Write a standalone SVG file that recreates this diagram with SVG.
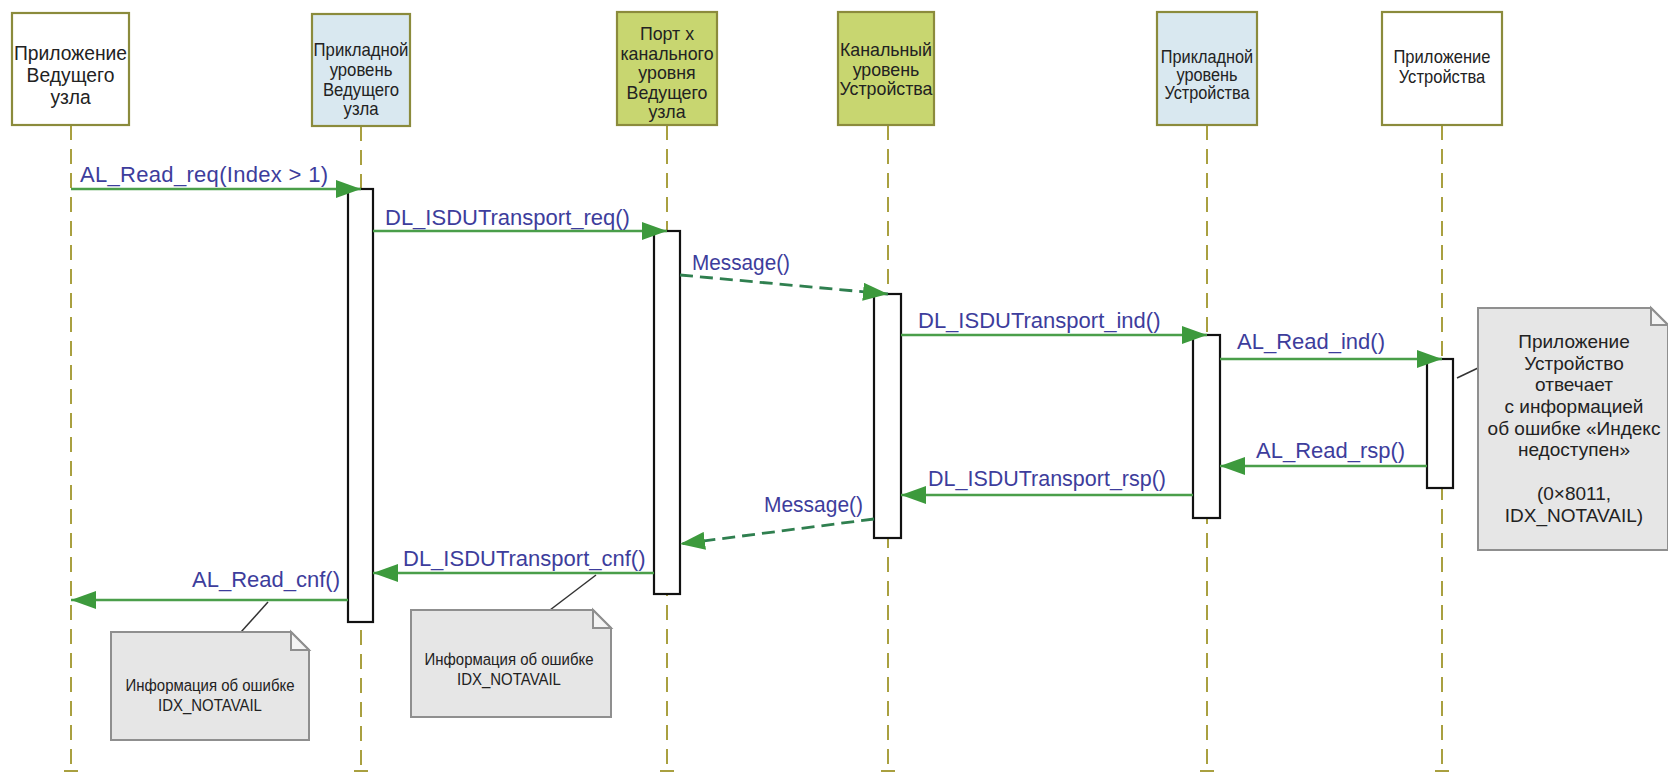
<svg xmlns="http://www.w3.org/2000/svg" width="1668" height="773" viewBox="0 0 1668 773">
<style>
.hdr{stroke:#8b8b3c;stroke-width:2.2}
.w{fill:#ffffff}.b{fill:#d9e8f0}.g{fill:#c8d670}
.ht{font-family:"Liberation Sans",Arial,sans-serif;fill:#222;text-anchor:middle}
.life{stroke:#a9a040;stroke-width:2;stroke-dasharray:15 9;fill:none}
.tick{stroke:#a9a040;stroke-width:2}
.bar{fill:#fff;stroke:#111;stroke-width:2.2}
.msg{stroke:#4a9e4a;stroke-width:2.6;fill:none}
.dmsg{stroke:#2f7f4f;stroke-width:2.8;stroke-dasharray:13 7;fill:none}
.lbl{font-family:"Liberation Sans",Arial,sans-serif;font-size:22px;fill:#3d3d9c}
.note{fill:#e6e6e6;stroke:#8f8f8f;stroke-width:2}
.fold{fill:#f4f4f4;stroke:#8f8f8f;stroke-width:2}
.nt{font-family:"Liberation Sans",Arial,sans-serif;fill:#222;text-anchor:middle}
.nl{stroke:#333;stroke-width:1.5}
</style>
<defs>
<marker id="ah" markerUnits="userSpaceOnUse" markerWidth="26" markerHeight="18" refX="25" refY="9" orient="auto">
<path d="M0,0 L25,9 L0,18 z" fill="#3d9a3d"/>
</marker>
</defs>

<g id="lifelines">
<line class="life" x1="71" y1="125" x2="71" y2="773"/>
<line class="life" x1="361" y1="126" x2="361" y2="773"/>
<line class="life" x1="667" y1="125" x2="667" y2="773"/>
<line class="life" x1="888" y1="125" x2="888" y2="773"/>
<line class="life" x1="1207" y1="125" x2="1207" y2="773"/>
<line class="life" x1="1442" y1="125" x2="1442" y2="773"/>
<line class="tick" x1="64" y1="771" x2="78" y2="771"/>
<line class="tick" x1="354" y1="771" x2="368" y2="771"/>
<line class="tick" x1="660" y1="771" x2="674" y2="771"/>
<line class="tick" x1="881" y1="771" x2="895" y2="771"/>
<line class="tick" x1="1200" y1="771" x2="1214" y2="771"/>
<line class="tick" x1="1435" y1="771" x2="1449" y2="771"/>
</g>

<g id="n1">
<rect class="hdr w" x="12" y="13" width="117" height="112"/>
<text class="ht" font-size="19.3" x="70.5"><tspan x="70.5" y="60">Приложение</tspan><tspan x="70.5" y="82">Ведущего</tspan><tspan x="70.5" y="104">узла</tspan></text>
</g>
<g id="n2">
<rect class="hdr b" x="312" y="14" width="98" height="112"/>
<g transform="translate(361,0) scale(0.89,1)"><text class="ht" font-size="18.8" x="0"><tspan x="0" y="56">Прикладной</tspan><tspan x="0" y="76">уровень</tspan><tspan x="0" y="96">Ведущего</tspan><tspan x="0" y="115">узла</tspan></text></g>
</g>
<g id="n3">
<rect class="hdr g" x="617" y="12" width="100" height="113"/>
<text class="ht" font-size="17.8" x="667"><tspan x="667" y="40">Порт х</tspan><tspan x="667" y="59.5">канального</tspan><tspan x="667" y="79">уровня</tspan><tspan x="667" y="98.5">Ведущего</tspan><tspan x="667" y="118">узла</tspan></text>
</g>
<g id="n4">
<rect class="hdr g" x="838" y="12" width="96" height="113"/>
<text class="ht" font-size="17.8" x="886"><tspan x="886" y="56">Канальный</tspan><tspan x="886" y="76">уровень</tspan><tspan x="886" y="95">Устройства</tspan></text>
</g>
<g id="n5">
<rect class="hdr b" x="1157" y="12" width="100" height="113"/>
<g transform="translate(1207,0) scale(0.88,1)"><text class="ht" font-size="18.5" x="0"><tspan x="0" y="63">Прикладной</tspan><tspan x="0" y="81">уровень</tspan><tspan x="0" y="99">Устройства</tspan></text></g>
</g>
<g id="n6">
<rect class="hdr w" x="1382" y="12" width="120" height="113"/>
<g transform="translate(1442,0) scale(0.92,1)"><text class="ht" font-size="18" x="0"><tspan x="0" y="63">Приложение</tspan><tspan x="0" y="83">Устройства</tspan></text></g>
</g>

<g id="bars">
<rect class="bar" x="348" y="189" width="25" height="433"/>
<rect class="bar" x="654" y="231" width="26" height="363"/>
<rect class="bar" x="874" y="294" width="27" height="244"/>
<rect class="bar" x="1193" y="335" width="27" height="183"/>
<rect class="bar" x="1427" y="359" width="26" height="129"/>
</g>

<g id="connectors">
<line class="msg" x1="71" y1="189" x2="361" y2="189" marker-end="url(#ah)"/>
<line class="msg" x1="373" y1="231" x2="667" y2="231" marker-end="url(#ah)"/>
<line class="dmsg" x1="680" y1="275" x2="888" y2="294" marker-end="url(#ah)"/>
<line class="msg" x1="901" y1="335" x2="1207" y2="335" marker-end="url(#ah)"/>
<line class="msg" x1="1220" y1="359" x2="1442" y2="359" marker-end="url(#ah)"/>
<line class="msg" x1="1427" y1="466" x2="1220" y2="466" marker-end="url(#ah)"/>
<line class="msg" x1="1193" y1="495" x2="901" y2="495" marker-end="url(#ah)"/>
<line class="dmsg" x1="874" y1="519" x2="680" y2="544" marker-end="url(#ah)"/>
<line class="msg" x1="654" y1="573" x2="373" y2="573" marker-end="url(#ah)"/>
<line class="msg" x1="348" y1="600" x2="71" y2="600" marker-end="url(#ah)"/>
<line class="nl" x1="268" y1="602" x2="241" y2="632"/>
<line class="nl" x1="596" y1="575" x2="550" y2="610"/>
<line class="nl" x1="1457" y1="378" x2="1478" y2="368"/>
</g>

<g id="labels">
<text class="lbl" x="80" y="182" textLength="248">AL_Read_req(Index &gt; 1)</text>
<text class="lbl" x="385" y="225">DL_ISDUTransport_req()</text>
<text class="lbl" x="692" y="270" textLength="98" lengthAdjust="spacingAndGlyphs">Message()</text>
<text class="lbl" x="918" y="328">DL_ISDUTransport_ind()</text>
<text class="lbl" x="1237" y="349">AL_Read_ind()</text>
<text class="lbl" x="1256" y="458">AL_Read_rsp()</text>
<text class="lbl" x="928" y="486" textLength="238" lengthAdjust="spacingAndGlyphs">DL_ISDUTransport_rsp()</text>
<text class="lbl" x="764" y="512" textLength="99" lengthAdjust="spacingAndGlyphs">Message()</text>
<text class="lbl" x="403" y="566">DL_ISDUTransport_cnf()</text>
<text class="lbl" x="192" y="587">AL_Read_cnf()</text>
</g>

<g id="note1">
<path class="note" d="M111,632 H291 L309,650 V740 H111 Z"/>
<path class="fold" d="M291,632 V650 H309 Z"/>
<g transform="translate(210,0) scale(0.88,1)"><text class="nt" font-size="17" x="0"><tspan x="0" y="691">Информация об ошибке</tspan><tspan x="0" y="711">IDX_NOTAVAIL</tspan></text></g>
</g>
<g id="note2">
<path class="note" d="M411,610 H593 L611,628 V717 H411 Z"/>
<path class="fold" d="M593,610 V628 H611 Z"/>
<g transform="translate(509,0) scale(0.88,1)"><text class="nt" font-size="17" x="0"><tspan x="0" y="665">Информация об ошибке</tspan><tspan x="0" y="685">IDX_NOTAVAIL</tspan></text></g>
</g>
<g id="note3">
<path class="note" d="M1478,308 H1651 L1668,325 V550 H1478 Z"/>
<path class="fold" d="M1651,308 V325 H1668 Z"/>
<text class="nt" font-size="19" x="1574"><tspan x="1574" y="348">Приложение</tspan><tspan x="1574" y="370">Устройство</tspan><tspan x="1574" y="391">отвечает</tspan><tspan x="1574" y="413">с информацией</tspan><tspan x="1574" y="435">об ошибке «Индекс</tspan><tspan x="1574" y="456">недоступен»</tspan><tspan x="1574" y="500">(0×8011,</tspan><tspan x="1574" y="522">IDX_NOTAVAIL)</tspan></text>
</g>
</svg>
